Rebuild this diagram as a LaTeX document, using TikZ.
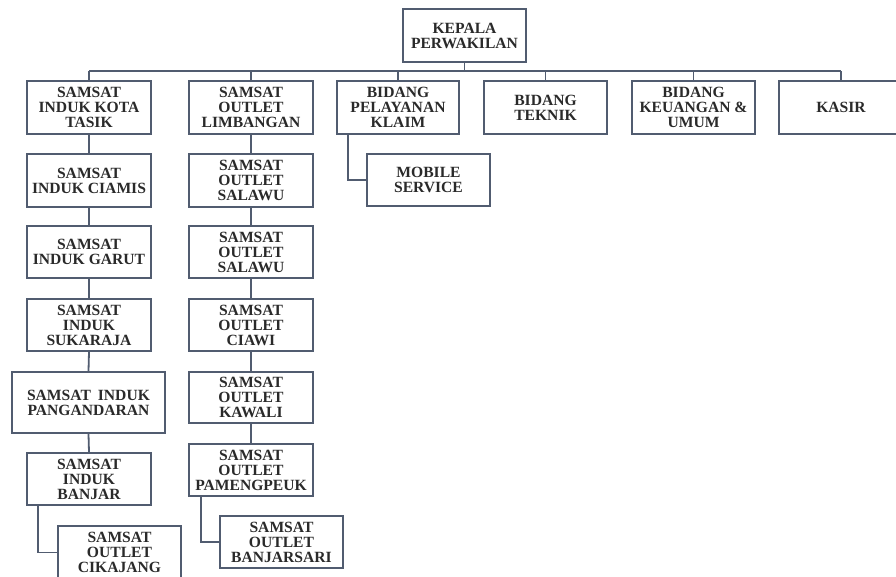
\documentclass[tikz,border=0pt]{standalone}
\usepackage{fontspec}
\setmainfont{Liberation Serif}
\definecolor{edgec}{HTML}{515C70}
\definecolor{txtc}{HTML}{2A2A2A}
\begin{document}
\begin{tikzpicture}[x=1pt,y=-1pt,
  orgbox/.style={draw=edgec, line width=2pt, fill=white, text=txtc, align=center,
    inner sep=0pt, minimum width=124pt, minimum height=52pt,
    font=\bfseries\fontsize{15.6}{15}\selectfont},
  link/.style={draw=edgec, line width=1.8pt}]
\useasboundingbox (0,0) rectangle (896,576);
\clip (0,0) rectangle (896,576);
\fill[white] (0,0) rectangle (896,576);
% top
\node[orgbox, minimum width=123pt, minimum height=53pt] (kep) at (464.5,35.5) {KEPALA\\PERWAKILAN};
% row 1
\node[orgbox, minimum height=53pt] (b1) at (89,107.5) {SAMSAT\\INDUK KOTA\\TASIK};
\node[orgbox, minimum height=53pt] (b2) at (251,107.5) {SAMSAT\\OUTLET\\LIMBANGAN};
\node[orgbox, minimum width=122pt, minimum height=53pt] (b3) at (398,107.5) {BIDANG\\PELAYANAN\\KLAIM};
\node[orgbox, minimum width=123pt, minimum height=53pt] (b4) at (545.5,107.5) {BIDANG\\TEKNIK};
\node[orgbox, minimum width=123pt, minimum height=53pt] (b5) at (693.5,107.5) {BIDANG\\KEUANGAN \&\\UMUM};
\node[orgbox, minimum height=53pt] (b6) at (841,107.5) {KASIR};
% column 1
\node[orgbox, minimum height=53pt] (c1) at (89,180.5) {SAMSAT\\INDUK CIAMIS};
\node[orgbox] (c2) at (89,252) {SAMSAT\\INDUK GARUT};
\node[orgbox] (c3) at (89,325) {SAMSAT\\INDUK\\SUKARAJA};
\node[orgbox, minimum width=153pt, minimum height=61pt] (c4) at (88.5,402.5) {SAMSAT\hspace{0.45em}INDUK\\PANGANDARAN};
\node[orgbox] (c5) at (89,479) {SAMSAT\\INDUK\\BANJAR};
\node[orgbox, minimum width=123pt, minimum height=53pt] (c6) at (119.5,552.5) {SAMSAT\\OUTLET\\CIKAJANG};
% column 2
\node[orgbox, minimum height=53pt] (d1) at (251,180.5) {SAMSAT\\OUTLET\\SALAWU};
\node[orgbox] (d2) at (251,252) {SAMSAT\\OUTLET\\SALAWU};
\node[orgbox] (d3) at (251,325) {SAMSAT\\OUTLET\\CIAWI};
\node[orgbox, minimum height=51pt] (d4) at (251,397.5) {SAMSAT\\OUTLET\\KAWALI};
\node[orgbox] (d5) at (251,470) {SAMSAT\\OUTLET\\PAMENGPEUK};
\node[orgbox, minimum width=123pt] (d6) at (281.5,542) {SAMSAT\\OUTLET\\BANJARSARI};
% mobile
\node[orgbox, minimum width=123pt] (mob) at (428.5,180) {MOBILE\\SERVICE};
% bus
\coordinate (bj) at (464.5,71);
\draw[link] (kep.south) -- (bj);
\draw[link] (b1.north |- bj) -- (b6.north |- bj);
\foreach \b in {b1,b2,b3,b4,b5,b6}{\draw[link] (\b.north) -- (\b.north |- bj);}
% chains
\draw[link] (b1.south) -- (c1.north);
\draw[link] (c1.south) -- (c2.north);
\draw[link] (c2.south) -- (c3.north);
\draw[link] (c3.south) -- (c4.north);
\draw[link] (c4.south) -- (c5.north);
\draw[link] ([xshift=12pt]c5.south west) |- (c6.west);
\draw[link] (b2.south) -- (d1.north);
\draw[link] (d1.south) -- (d2.north);
\draw[link] (d2.south) -- (d3.north);
\draw[link] (d3.south) -- (d4.north);
\draw[link] (d4.south) -- (d5.north);
\draw[link] ([xshift=13pt]d5.south west) |- (d6.west);
\draw[link] ([xshift=12pt]b3.south west) |- (mob.west);
\end{tikzpicture}
\end{document}
